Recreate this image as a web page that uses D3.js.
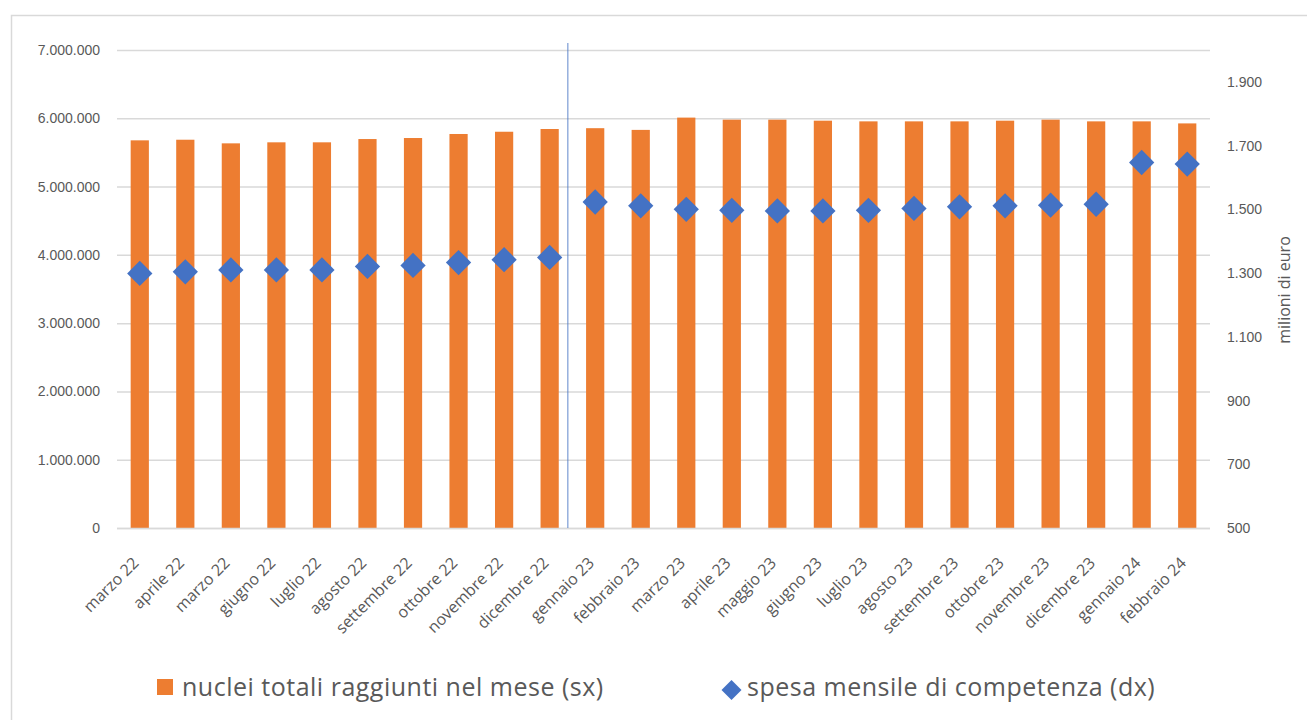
<!DOCTYPE html>
<html>
<head>
<meta charset="utf-8">
<script src="https://cdn.jsdelivr.net/npm/d3@7"></script>
<style>
  html, body { margin: 0; padding: 0; background: #fff; }
  svg { display: block; font-family: "Open Sans", "Noto Sans", sans-serif; }
</style>
</head>
<body>
<svg id="chart" width="1307" height="720"></svg>
<script>
// Months shown on the category axis
const months = [
  "marzo 22", "aprile 22", "marzo 22", "giugno 22", "luglio 22", "agosto 22",
  "settembre 22", "ottobre 22", "novembre 22", "dicembre 22", "gennaio 23", "febbraio 23",
  "marzo 23", "aprile 23", "maggio 23", "giugno 23", "luglio 23", "agosto 23",
  "settembre 23", "ottobre 23", "novembre 23", "dicembre 23", "gennaio 24", "febbraio 24"
];

// Households reached in the month (left axis)
const nuclei = [
  5677000, 5686000, 5633000, 5648000, 5648000, 5696000,
  5711000, 5770000, 5803000, 5843000, 5855000, 5830000,
  6010000, 5980000, 5980000, 5965000, 5955000, 5955000,
  5955000, 5965000, 5980000, 5955000, 5955000, 5925000
];

// Monthly spending, millions of euro (right axis)
const spesa = [
  1299, 1304, 1310, 1310, 1310, 1321,
  1324, 1333, 1342, 1349, 1523, 1511,
  1500, 1497, 1495, 1495, 1497, 1503,
  1508, 1511, 1513, 1516, 1647, 1642
];

const leftTicks = [0, 1000000, 2000000, 3000000, 4000000, 5000000, 6000000, 7000000];
const rightTicks = [500, 700, 900, 1100, 1300, 1500, 1700, 1900];

const legendLabels = ["nuclei totali raggiunti nel mese (sx)", "spesa mensile di competenza (dx)"];
const rightTitle = "milioni di euro";

const colBar = "#ED7D31";
const colDot = "#4472C4";
const colText = "#595959";
const colGrid = "#d9d9d9";

const svg = d3.select("#chart");
const plot = { left: 117, right: 1210, top: 50, bottom: 528 };

// Chart frame
svg.append("rect")
  .attr("x", 11.5).attr("y", 15.5)
  .attr("width", 1320).attr("height", 720)
  .attr("fill", "none").attr("stroke", colGrid).attr("stroke-width", 1.5);

const x = d3.scaleBand()
  .domain(d3.range(months.length))
  .range([plot.left, plot.right])
  .paddingInner(0.6).paddingOuter(0.3);

const yL = d3.scaleLinear().domain([0, 7000000]).range([plot.bottom, plot.top]);
const yR = d3.scaleLinear().domain([500, 2000]).range([plot.bottom, plot.top]);

const itFmt = d3.formatLocale({ decimal: ",", thousands: ".", grouping: [3], currency: ["€", ""] }).format(",.0f");

// Gridlines and left axis
const gL = svg.append("g").attr("transform", `translate(${plot.left},0)`)
  .call(d3.axisLeft(yL).tickValues(leftTicks).tickFormat(itFmt)
    .tickSize(-(plot.right - plot.left)).tickPadding(17));
gL.select(".domain").remove();
gL.selectAll(".tick line").attr("stroke", colGrid).attr("stroke-width", 1.5);
gL.selectAll(".tick text").attr("fill", colText).attr("font-size", 14);

// Right axis
const gR = svg.append("g").attr("transform", `translate(${plot.right},0)`)
  .call(d3.axisRight(yR).tickValues(rightTicks).tickFormat(itFmt).tickSize(0).tickPadding(17));
gR.select(".domain").remove();
gR.selectAll(".tick text").attr("fill", colText).attr("font-size", 14);

svg.append("text")
  .attr("transform", `translate(1284,${(plot.top + plot.bottom) / 2 + 1}) rotate(-90)`)
  .attr("text-anchor", "middle")
  .attr("dy", "0.35em")
  .attr("fill", colText).attr("font-size", 16)
  .text(rightTitle);

// Bars
svg.append("g").selectAll("rect").data(nuclei).join("rect")
  .attr("x", (d, i) => x(i))
  .attr("width", x.bandwidth())
  .attr("y", d => yL(d))
  .attr("height", d => yL(0) - yL(d))
  .attr("fill", colBar);

// Baseline
svg.append("line")
  .attr("x1", plot.left).attr("x2", plot.right)
  .attr("y1", plot.bottom + 0.5).attr("y2", plot.bottom + 0.5)
  .attr("stroke", colGrid).attr("stroke-width", 1.5);

// Separator between 2022 and 2023
const sepX = x(9) + x.bandwidth() / 2 + x.step() * 0.4;
svg.append("line")
  .attr("x1", sepX).attr("x2", sepX)
  .attr("y1", 43).attr("y2", plot.bottom)
  .attr("stroke", colDot).attr("stroke-opacity", 0.85).attr("stroke-width", 1);

// Diamonds
const diamond = d3.symbol().type(d3.symbolSquare).size(320);
svg.append("g").selectAll("path").data(spesa).join("path")
  .attr("d", diamond)
  .attr("transform", (d, i) => `translate(${x(i) + x.bandwidth() / 2},${yR(d)}) rotate(45)`)
  .attr("fill", colDot);

// Category labels
svg.append("g").selectAll("text").data(months).join("text")
  .attr("transform", (d, i) => `translate(${x(i) + x.bandwidth() / 2 - 4},${plot.bottom + 32}) rotate(-45)`)
  .attr("text-anchor", "end")
  .attr("dy", "0.35em")
  .attr("fill", colText).attr("font-size", 16)
  .text(d => d);

// Legend
const lg = svg.append("g");
lg.append("rect").attr("x", 157).attr("y", 679).attr("width", 16).attr("height", 16).attr("fill", colBar);
lg.append("text").attr("x", 182).attr("y", 687).attr("dy", "0.35em")
  .attr("fill", colText).attr("font-size", 25).attr("letter-spacing", 0.5).text(legendLabels[0]);
lg.append("path").attr("d", d3.symbol().type(d3.symbolSquare).size(200))
  .attr("transform", "translate(731.5,690) rotate(45)").attr("fill", colDot);
lg.append("text").attr("x", 747).attr("y", 687).attr("dy", "0.35em")
  .attr("fill", colText).attr("font-size", 25).attr("letter-spacing", 0.5).text(legendLabels[1]);
</script>
</body>
</html>
